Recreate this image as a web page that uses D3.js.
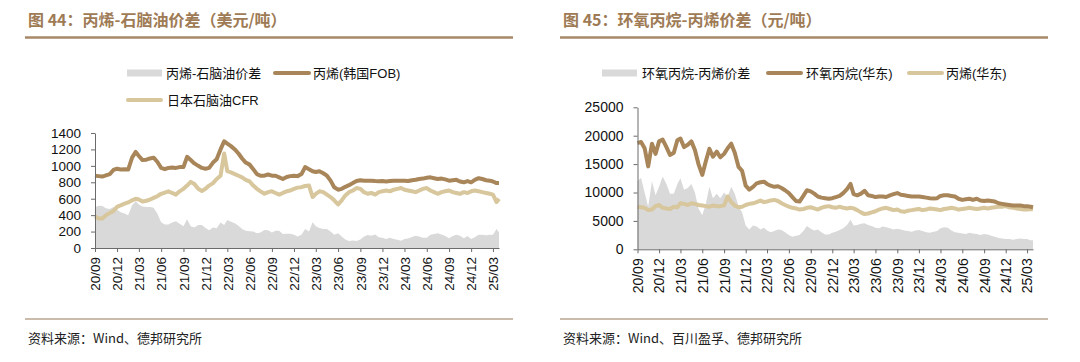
<!DOCTYPE html>
<html><head><meta charset="utf-8">
<script src="https://cdn.jsdelivr.net/npm/d3@7/dist/d3.min.js"></script>
<style>
body{margin:0;background:#fff;}
svg{display:block;}
text{font-family:"Liberation Sans","Noto Sans CJK SC",Arial,sans-serif;}
</style></head>
<body>
<svg id="c" width="1080" height="362"></svg>
<script>
// ---------- data ----------
// semi-monthly observation dates (1st and 16th of each month) from 2020-09 to 2025-03, plus last obs
const startMonth = "2020-09-01";
const lastDate = "2025-03-26";
const nSemi = 110;

const xTickLabels = ["20/09","20/12","21/03","21/06","21/09","21/12","22/03","22/06","22/09","22/12","23/03","23/06","23/09","23/12","24/03","24/06","24/09","24/12","25/03"];

// Figure 44 (USD/t)
const title44 = "图 44：丙烯-石脑油价差（美元/吨）";
const names44 = ["丙烯-石脑油价差","丙烯(韩国FOB)","日本石脑油CFR"];
const yTicks44 = [0,200,400,600,800,1000,1200,1400];
const propyleneKorea = [880,875,870,885,900,950,965,955,960,955,1100,1170,1120,1070,1075,1090,1100,1050,975,960,975,980,975,985,985,1110,1070,1030,1000,975,965,975,1040,1080,1200,1300,1270,1240,1200,1150,1090,1040,1015,960,900,880,880,895,880,880,860,840,865,875,880,875,900,985,960,935,925,935,910,880,820,740,710,720,745,765,790,815,825,820,818,820,815,812,815,810,815,820,820,818,820,815,825,830,840,845,855,860,850,840,845,835,820,825,830,810,800,815,800,830,850,840,825,820,810,790,790];
const naphthaJapan = [385,360,360,400,425,450,500,520,540,555,580,600,590,565,575,590,610,630,660,675,690,670,650,690,720,760,805,780,720,695,720,760,790,840,880,1150,935,920,900,880,860,830,810,760,720,690,660,680,690,670,650,670,690,700,720,735,740,755,760,620,660,690,680,650,620,580,530,580,640,680,700,730,720,680,660,670,650,680,690,700,690,710,720,730,710,700,690,680,700,720,730,700,680,660,680,690,700,680,670,660,680,670,690,700,690,680,670,660,650,560,600];
const spread44 = [495,515,510,485,475,500,465,435,420,400,520,570,530,505,500,500,490,420,315,285,285,310,325,295,265,350,265,250,280,280,245,215,250,240,310,280,340,320,300,270,230,210,205,200,180,190,220,215,190,210,210,170,175,175,160,140,160,230,200,315,265,245,230,230,200,160,180,140,105,85,90,85,105,140,158,150,165,132,125,110,125,110,100,88,110,115,135,150,140,125,125,160,170,180,165,145,120,145,160,150,120,145,110,130,160,160,155,160,160,230,190];

// Figure 45 (CNY/t)
const title45 = "图 45：环氧丙烷-丙烯价差（元/吨）";
const names45 = ["环氧丙烷-丙烯价差","环氧丙烷(华东)","丙烯(华东)"];
const yTicks45 = [0,5000,10000,15000,20000,25000];
const poEast = [18700,18900,17800,14600,18600,16800,19000,19300,18000,16600,17000,19200,19500,18000,18400,19000,17500,15000,13100,15500,17700,16300,17200,16200,16800,17800,18600,17000,14500,13800,11200,10500,11000,11600,11800,11900,11500,11200,11000,11100,10800,10400,9900,9200,8500,8400,9400,10400,10200,9800,9300,9100,9000,8900,9000,9200,9400,9900,10600,11500,9700,9500,9800,10300,9500,9400,9200,9300,9300,9200,9500,9700,9900,9600,9500,9400,9300,9300,9300,9200,9100,9000,8950,9000,9400,9500,9500,9400,9300,8900,8700,8800,8900,8700,8900,8600,8500,8600,8500,8400,8100,8000,7900,7800,7700,7700,7700,7600,7600,7500,7400];
const propyleneEast = [7500,7400,7300,6900,7000,7600,7800,7300,7200,7100,7500,7400,8100,8000,7800,8100,8000,7800,7700,7600,7500,7700,7600,7600,7700,9300,8300,7700,7400,7500,7800,8000,8100,8300,8600,8300,8400,8600,8700,8500,8100,7800,7500,7300,7200,7000,7100,7300,7400,7200,7000,7300,7500,7600,7400,7300,7500,7300,7200,7300,7200,6900,6500,6200,6300,6500,6700,7000,7200,7300,7100,6900,7000,6700,6600,6800,6900,7000,7100,6900,7000,7200,7100,7000,6900,7100,7200,7300,7200,7000,7100,7200,7300,7200,7100,7200,7300,7200,7300,7400,7500,7500,7600,7400,7300,7200,7100,7000,7000,7100,7050];
const spread45 = [12000,12600,10000,7500,12000,9500,11000,12800,11500,9800,9800,11500,12500,10500,10800,11500,10000,7200,6000,8000,11000,9000,9800,9000,10000,9200,11000,9800,7600,6500,4200,3500,4200,4000,3500,3800,3300,3000,3200,3500,3400,3000,2500,2200,2400,2500,3200,4100,3600,3300,3500,3000,2600,2600,2900,3100,3400,3700,4300,5200,4200,4300,4500,4600,4300,4100,3800,3700,4000,3900,3700,3500,3600,3500,3300,3200,3100,3300,3400,3200,3000,2900,3100,3200,3700,3900,3800,3300,3000,2900,2800,2700,2900,2800,2700,2500,2700,2600,2400,2200,2000,1900,1800,1800,1700,1800,1900,1800,1800,1600,1600];

const source44 = "资料来源：Wind、德邦研究所";
const source45 = "资料来源：Wind、百川盈孚、德邦研究所";

// ---------- build dates ----------
const parse = d3.utcParse("%Y-%m-%d");
const dates = [];
(function(){
  const m0 = parse(startMonth);
  for (let i = 0; i < nSemi; i++) {
    const m = d3.utcMonth.offset(m0, Math.floor(i/2));
    dates.push(i % 2 === 0 ? m : d3.utcDay.offset(m, 15));
  }
  dates.push(parse(lastDate));
})();
const tickDates = xTickLabels.map(s => parse("20" + s.slice(0,2) + "-" + s.slice(3) + "-01"));

// ---------- styles ----------
const C_GRAY = "#d9d9d9", C_BROWN = "#a8865a", C_LIGHT = "#d8c69c";
const C_TITLE = "#9e7b55", C_RULE = "#a88968", C_AXIS = "#6b6b6b";

const svg = d3.select("#c");

function panel(o) {
  const g = svg.append("g");
  // title
  g.append("text").attr("x", o.titleX).attr("y", 25.5).attr("fill", C_TITLE)
    .attr("font-size", 16).attr("font-weight", "bold")
    .style("font-family", '"Noto Sans CJK SC","Liberation Sans",sans-serif')
    .text(o.title);
  g.append("line").attr("x1", o.ruleX1).attr("x2", o.ruleX2).attr("y1", 37.5).attr("y2", 37.5)
    .attr("stroke", C_RULE).attr("stroke-width", 2.6);
  // footer
  g.append("line").attr("x1", o.ruleX1).attr("x2", o.ruleX2).attr("y1", 319).attr("y2", 319)
    .attr("stroke", "#b8a58e").attr("stroke-width", 1.6);
  g.append("text").attr("x", o.titleX).attr("y", 343).attr("fill", "#222")
    .attr("font-size", 13).style("font-family", '"Noto Sans CJK SC","Liberation Sans",sans-serif')
    .text(o.source);

  const x = d3.scaleUtc().domain([dates[0], dates[dates.length-1]]).range([o.x0, o.x1]);
  const y = d3.scaleLinear().domain([0, o.yMax]).range([o.y0, o.y1]);

  const rows = dates.map((d, i) => ({d, s: o.spread[i], a: o.lineA[i], b: o.lineB[i]}));

  g.append("path").datum(rows).attr("fill", C_GRAY)
    .attr("d", d3.area().x(r => x(r.d)).y0(y(0)).y1(r => y(r.s)));
  g.append("path").datum(rows).attr("fill", "none").attr("stroke", C_LIGHT).attr("stroke-width", 4)
    .attr("stroke-linejoin", "round")
    .attr("d", d3.line().x(r => x(r.d)).y(r => y(r.b)));
  g.append("path").datum(rows).attr("fill", "none").attr("stroke", C_BROWN).attr("stroke-width", 4)
    .attr("stroke-linejoin", "round")
    .attr("d", d3.line().x(r => x(r.d)).y(r => y(r.a)));

  // y axis
  const ya = g.append("g").attr("transform", `translate(${o.x0},0)`)
    .call(d3.axisLeft(y).tickValues(o.yTicks).tickFormat(d3.format("d")).tickSize(4).tickPadding(10).tickSizeOuter(0));
  ya.select(".domain").attr("stroke", C_AXIS);
  ya.selectAll(".tick line").attr("stroke", C_AXIS);
  ya.selectAll("text").attr("font-size", o.fs).attr("fill", "#111")
    .style("font-family", '"Liberation Sans",Arial,sans-serif');

  // x axis
  const xa = g.append("g").attr("transform", `translate(0,${o.y0})`)
    .call(d3.axisBottom(x).tickValues(tickDates).tickFormat((d, i) => xTickLabels[i]).tickSize(4).tickSizeOuter(0));
  xa.select(".domain").attr("stroke", C_AXIS);
  xa.selectAll(".tick line").attr("stroke", C_AXIS);
  xa.selectAll("text").attr("font-size", o.fs).attr("fill", "#111")
    .style("font-family", '"Liberation Sans",Arial,sans-serif')
    .attr("text-anchor", "end").attr("transform", "translate(0,9) rotate(-90)")
    .attr("x", 0).attr("y", 0).attr("dy", "0.35em");

  // legend
  o.legend.forEach(L => {
    if (L.kind === "area") {
      g.append("rect").attr("x", L.x).attr("y", L.y - 3.5).attr("width", L.w).attr("height", 7).attr("fill", C_GRAY);
    } else {
      g.append("line").attr("x1", L.x).attr("x2", L.x + L.w).attr("y1", L.y).attr("y2", L.y)
        .attr("stroke", L.kind === "a" ? C_BROWN : C_LIGHT).attr("stroke-width", 4).attr("stroke-linecap", "round");
    }
    g.append("text").attr("x", L.tx).attr("y", L.y).attr("dy", "0.36em").attr("font-size", 13)
      .attr("fill", "#111").style("font-family", '"Liberation Sans","Noto Sans CJK SC",sans-serif').text(L.name);
  });
}

panel({
  title: title44, source: source44, titleX: 28, ruleX1: 25, ruleX2: 513,
  x0: 95, x1: 499, y0: 248, y1: 133, yMax: 1400, yTicks: yTicks44, fs: 13.5,
  spread: spread44, lineA: propyleneKorea, lineB: naphthaJapan,
  legend: [
    {kind: "area", x: 127, w: 35, y: 73, tx: 166, name: names44[0]},
    {kind: "a", x: 275, w: 34, y: 73, tx: 313, name: names44[1]},
    {kind: "b", x: 128, w: 33, y: 100, tx: 167, name: names44[2]}
  ]
});

panel({
  title: title45, source: source45, titleX: 563, ruleX1: 560, ruleX2: 1048,
  x0: 637.5, x1: 1033, y0: 249.3, y1: 107.3, yMax: 25000, yTicks: yTicks45, fs: 14,
  spread: spread45, lineA: poEast, lineB: propyleneEast,
  legend: [
    {kind: "area", x: 602, w: 35, y: 73, tx: 642, name: names45[0]},
    {kind: "a", x: 768, w: 33, y: 73, tx: 806, name: names45[1]},
    {kind: "b", x: 909, w: 33, y: 73, tx: 946, name: names45[2]}
  ]
});
</script>
</body></html>
